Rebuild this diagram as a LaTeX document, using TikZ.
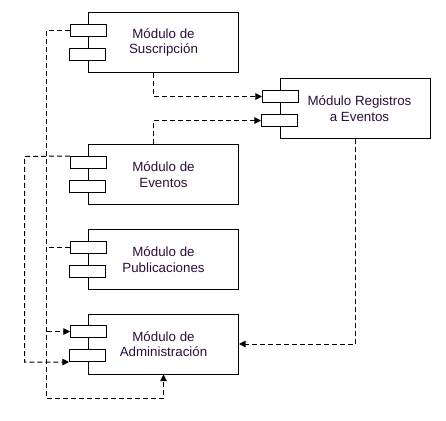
\documentclass[tikz,border=0pt]{standalone}
\usepackage{fontspec}
\setmainfont{Liberation Sans}
\usetikzlibrary{arrows.meta, calc}
\definecolor{CompLine}{HTML}{000000}
\definecolor{CompText}{HTML}{2E0E3C}
\definecolor{CompFill}{HTML}{FFFFFF}
\tikzset{
    comp/.style={
        draw=CompLine,
        fill=CompFill,
        line width=0.75pt,
        minimum width=112.5pt,
        minimum height=45pt,
        text=CompText,
        font=\fontsize{10}{11.5}\selectfont,
        align=center,
        inner sep=0pt
    },
    port/.style={
        draw=CompLine,
        fill=CompFill,
        line width=0.75pt,
        minimum width=27pt,
        minimum height=9pt,
        inner sep=0pt
    },
    dep/.style={
        -{Triangle[length=5pt,width=5pt]},
        line width=0.75pt,
        dash pattern=on 3.75pt off 2.25pt,
        CompLine
    },
    link/.style={
        line width=0.75pt,
        dash pattern=on 3.75pt off 2.25pt,
        CompLine
    }
}

\begin{document}
\begin{tikzpicture}[x=0.75pt, y=-0.75pt]
        \useasboundingbox (0,0) rectangle (446,421);

    \begin{scope}[shift={(0.5,0.5)}]
        % Components
        \node[comp] (sus) at (163,42) {Módulo de\\Suscripción};
        \node[comp] (reg) at (355,108) {\hspace*{6pt}Módulo Registros\\\hspace*{6pt}a Eventos};
        \node[comp] (evt) at (163,174) {Módulo de\\Eventos};
        \node[comp] (pub) at (163,259) {Módulo de\\Publicaciones};
        \node[comp] (adm) at (163,343.5) {Módulo de\\Administración};

        % Ports
        \node[port] (sus_p1) at (88,30) {};
        \node[port] (sus_p2) at (87,54) {};
        \node[port] (reg_p1) at (280,96) {};
        \node[port] (reg_p2) at (279,120) {};
        \node[port] (evt_p1) at (88,162) {};
        \node[port] (evt_p2) at (87,186) {};
        \node[port] (pub_p1) at (88,247) {};
        \node[port] (pub_p2) at (87,271) {};
        \node[port] (adm_p1) at (88,331) {};
        \node[port] (adm_p2) at (87,355) {};

        % Dependencies to Registros
        \draw[dep] ($(sus.south)+(-10,0)$) |- (reg_p1.west);
        \draw[dep] ($(evt.north)+(-10,0)$) |- (reg_p2.west);

        % Dependencies to Administracion
        \draw[dep] (reg.south) |- (adm.east);
        \draw[dep] (sus_p1.west) -- (46,30) -- (46,398) -| (adm.south);
        \draw[link] (pub_p1.west) -- (46,247);
        \draw[dep] (46,331) -- (adm_p1.west);
        \draw[dep] (evt_p1.north west) -- (24,156) |- (adm_p2.south west);
    \end{scope}
    \end{tikzpicture}
\end{document}
